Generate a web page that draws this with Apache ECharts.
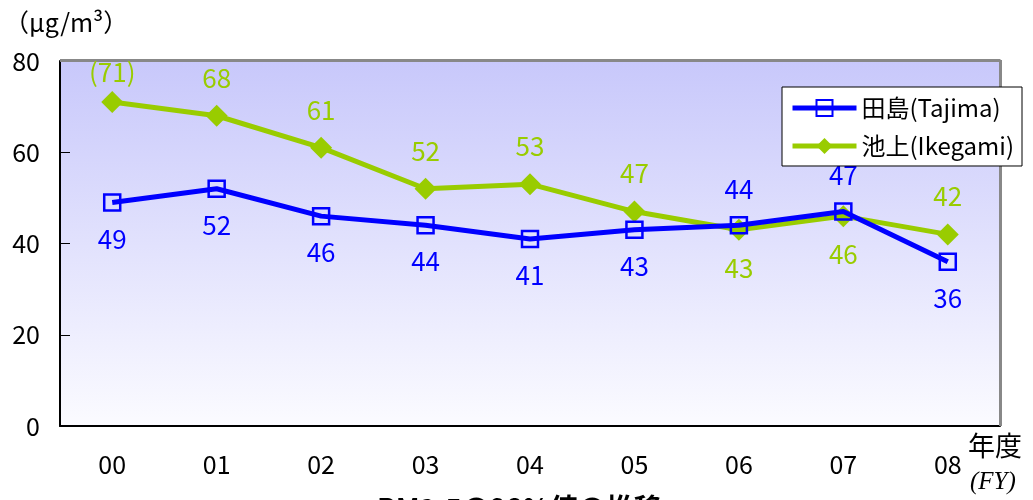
<!DOCTYPE html>
<html>
<head>
<meta charset="utf-8">
<script src="https://cdn.jsdelivr.net/npm/echarts@6/dist/echarts.min.js"></script>
<style>
  html, body { margin: 0; padding: 0; background: #fff; }
  #main { width: 1033px; height: 500px; }
</style>
</head>
<body>
<div id="main"></div>
<script>
// 年度
const years = ['00', '01', '02', '03', '04', '05', '06', '07', '08'];
// 田島
const tajima = [49, 52, 46, 44, 41, 43, 44, 47, 36];
// 池上
const ikegami = [71, 68, 61, 52, 53, 47, 43, 46, 42];
// ラベル位置を反転する年度
const tajimaUp = ['06', '07'];
const ikegamiDown = ['06', '07'];

const font = '"Noto Sans CJK JP", sans-serif';

const chart = echarts.init(document.getElementById('main'));

function labelData(values, cats, flip, isUp, colour, firstText) {
  let out = [];
  for (let i = 0; i < values.length; i++) {
    let inList = flip.indexOf(cats[i]) >= 0;
    let top = isUp ? !inList : inList;
    out.push({
      value: values[i],
      label: {
        show: true,
        position: top ? 'top' : 'bottom',
        distance: (i == 0 && firstText) ? 6 : 14,
        color: colour,
        fontSize: 26,
        fontFamily: font,
        formatter: (i == 0 && firstText) ? firstText : '{c}'
      }
    });
  }
  return out;
}

chart.setOption({
  animation: false,
  title: {
    text: 'PM2.5の98%値の推移',
    left: 372,
    top: 489,
    textStyle: { fontSize: 28, fontWeight: 'bold', color: '#000', fontFamily: font }
  },
  grid: {
    left: 60, top: 61, right: 33, bottom: 74,
    show: true,
    borderWidth: 0,
    backgroundColor: new echarts.graphic.LinearGradient(0, 0, 0, 1, [
      { offset: 0, color: '#c8c8fb' },
      { offset: 1, color: '#fbfbff' }
    ])
  },
  legend: {
    right: 11, top: 87,
    orient: 'vertical',
    backgroundColor: '#fff',
    borderColor: '#000',
    borderWidth: 1,
    borderRadius: 0,
    padding: [9, 8, 8, 8],
    itemGap: 14,
    itemWidth: 64,
    itemHeight: 20,
    textStyle: { fontSize: 24, color: '#000', fontFamily: font },
    data: [
      { name: '田島(Tajima)', lineStyle: { width: 5 } },
      { name: '池上(Ikegami)', lineStyle: { width: 5 } }
    ]
  },
  xAxis: {
    type: 'category',
    data: years,
    boundaryGap: true,
    axisLine: { lineStyle: { color: '#000', width: 2 } },
    axisTick: { inside: true, length: 8, lineStyle: { color: '#000' } },
    axisLabel: { fontSize: 25, color: '#000', margin: 26, fontFamily: font },
    splitLine: { show: false }
  },
  yAxis: {
    type: 'value',
    min: 0, max: 80, interval: 20,
    axisLine: { show: true, lineStyle: { color: '#000', width: 2 } },
    axisTick: { show: true, inside: true, length: 10, lineStyle: { color: '#000' } },
    axisLabel: { fontSize: 25, color: '#000', margin: 20, fontFamily: font },
    splitLine: { show: false }
  },
  graphic: [
    // 枠線（上・右）
    { type: 'line', shape: { x1: 60, y1: 60.5, x2: 1000.5, y2: 60.5 }, style: { stroke: '#888', lineWidth: 3 }, z: 1 },
    { type: 'line', shape: { x1: 1000.5, y1: 60, x2: 1000.5, y2: 426 }, style: { stroke: '#888', lineWidth: 3 }, z: 1 },
    { type: 'text', left: 4, top: 10, style: { text: '（μg/m³）', fill: '#000', font: '25px ' + font } },
    { type: 'text', left: 968, top: 432, style: { text: '年度', fill: '#000', font: '27px ' + font } },
    { type: 'text', left: 970, top: 470, style: { text: '(FY)', fill: '#000', font: 'italic 25px "Liberation Serif", "DejaVu Serif", serif' } }
  ],
  series: [
    {
      name: '田島(Tajima)',
      type: 'line',
      data: labelData(tajima, years, tajimaUp, false, '#0000ff'),
      symbol: 'rect',
      symbolSize: 16,
      lineStyle: { color: '#0000ff', width: 5 },
      itemStyle: { color: 'rgba(0,0,0,0)', borderColor: '#0000ff', borderWidth: 2.5 },
      z: 3
    },
    {
      name: '池上(Ikegami)',
      type: 'line',
      data: labelData(ikegami, years, ikegamiDown, true, '#99cc00', '(71)'),
      symbol: 'diamond',
      symbolSize: [22, 22],
      lineStyle: { color: '#99cc00', width: 5 },
      itemStyle: { color: '#99cc00' },
      z: 2
    }
  ]
});
</script>
</body>
</html>
